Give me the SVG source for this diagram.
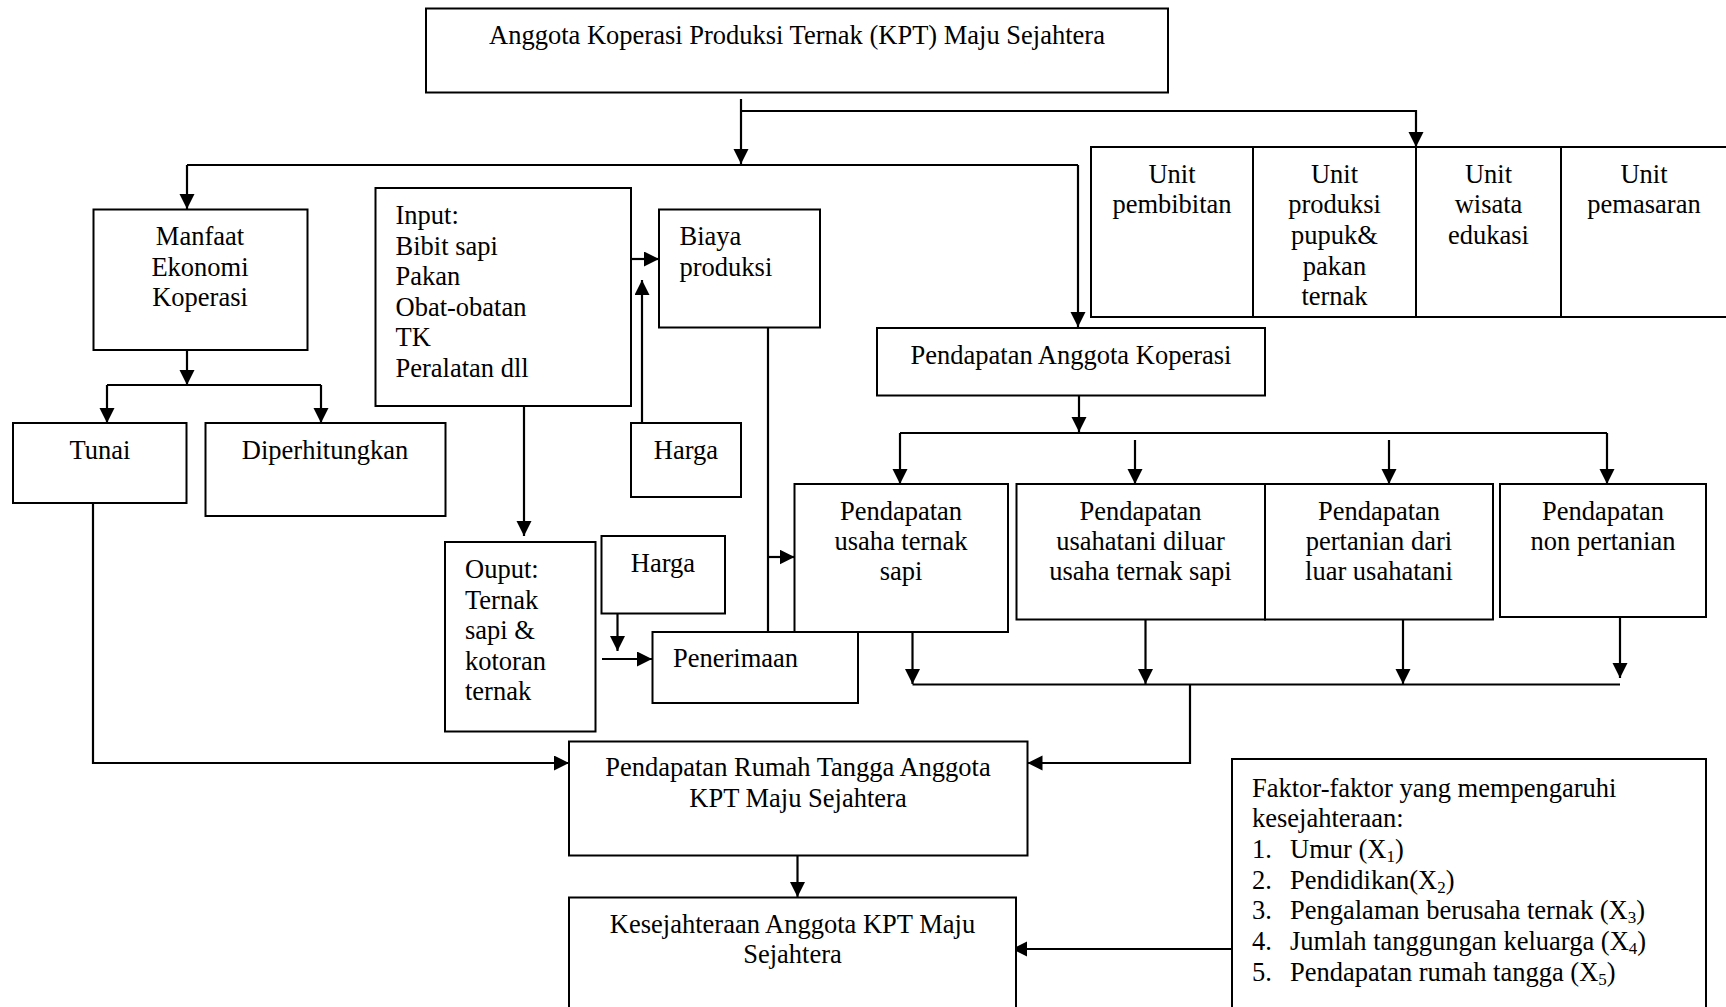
<svg xmlns="http://www.w3.org/2000/svg" width="1726" height="1007" viewBox="0 0 1726 1007">
<style>
  .box { fill: #ffffff; stroke: #000000; stroke-width: 2; }
  .t { font-family: "Liberation Serif", "Times New Roman", serif; font-size: 26.5px; fill: #000000; }
  .c { text-anchor: middle; }
  .ln { fill: none; stroke: #000000; stroke-width: 2.2; }
  .arr { fill: none; stroke: #000000; stroke-width: 2.2; marker-end: url(#ah); }
  .sub { font-size: 17px; }
</style>
<defs>
  <marker id="ah" markerUnits="userSpaceOnUse" markerWidth="16" markerHeight="16" viewBox="0 0 16 16" refX="15" refY="7.5" orient="auto">
    <path d="M0,0 L15,7.5 L0,15 Z" fill="#000000"/>
  </marker>
</defs>
<rect width="1726" height="1007" fill="#ffffff"/>

<g id="connectors">
  <path class="arr" d="M741,99 V164"/>
  <path class="arr" d="M741,111 H1416 V147"/>
  <path class="ln" d="M187,165 H1078"/>
  <path class="arr" d="M187,165 V209"/>
  <path class="arr" d="M1078,165 V327"/>
  <path class="arr" d="M187,346 V385"/>
  <path class="ln" d="M107,385 H321"/>
  <path class="arr" d="M107,385 V423"/>
  <path class="arr" d="M321,385 V423"/>
  <path class="arr" d="M631,259 H659"/>
  <path class="arr" d="M642,423 V280"/>
  <path class="arr" d="M524,406 V536"/>
  <path class="arr" d="M617.5,613 V651"/>
  <path class="arr" d="M602,659 H652"/>
  <path class="ln" d="M768,328 V632"/>
  <path class="arr" d="M768,557 H794.5"/>
  <path class="arr" d="M1079,396 V432"/>
  <path class="ln" d="M900,433 H1607"/>
  <path class="arr" d="M900,433 V484"/>
  <path class="arr" d="M1135,440 V484"/>
  <path class="arr" d="M1389,440 V484"/>
  <path class="arr" d="M1607,433 V484"/>
  <path class="arr" d="M912.5,632 V684"/>
  <path class="arr" d="M1145.5,620 V684"/>
  <path class="arr" d="M1403,620 V684"/>
  <path class="arr" d="M1620,614 V678"/>
  <path class="ln" d="M912.5,684.5 H1620"/>
  <path class="arr" d="M1190,684.5 V763 H1027.5"/>
  <path class="arr" d="M93,503 V763 H569"/>
  <path class="arr" d="M797.5,856 V897"/>
  <path class="arr" d="M1232,949 H1012"/>
</g>

<g id="node-anggota">
  <rect class="box" x="426" y="8.5" width="742" height="84"/>
  <text class="t c" x="797" y="44">Anggota Koperasi Produksi Ternak (KPT) Maju Sejahtera</text>
</g>

<g id="node-unit-pembibitan">
  <rect class="box" x="1091" y="147" width="162" height="170"/>
  <text class="t c" x="1172" y="182.5">Unit</text>
  <text class="t c" x="1172" y="213">pembibitan</text>
</g>
<g id="node-unit-produksi">
  <rect class="box" x="1253" y="147" width="163" height="170"/>
  <text class="t c" x="1334.5" y="182.5">Unit</text>
  <text class="t c" x="1334.5" y="213">produksi</text>
  <text class="t c" x="1334.5" y="244">pupuk&amp;</text>
  <text class="t c" x="1334.5" y="274.5">pakan</text>
  <text class="t c" x="1334.5" y="305">ternak</text>
</g>
<g id="node-unit-wisata">
  <rect class="box" x="1416" y="147" width="145" height="170"/>
  <text class="t c" x="1488.5" y="182.5">Unit</text>
  <text class="t c" x="1488.5" y="213">wisata</text>
  <text class="t c" x="1488.5" y="244">edukasi</text>
</g>
<g id="node-unit-pemasaran">
  <rect class="box" x="1561" y="147" width="170" height="170"/>
  <text class="t c" x="1644" y="182.5">Unit</text>
  <text class="t c" x="1644" y="213">pemasaran</text>
</g>

<g id="node-manfaat">
  <rect class="box" x="93.5" y="209.5" width="214" height="140.5"/>
  <text class="t c" x="200" y="245">Manfaat</text>
  <text class="t c" x="200" y="275.5">Ekonomi</text>
  <text class="t c" x="200" y="306">Koperasi</text>
</g>

<g id="node-tunai">
  <rect class="box" x="13" y="423" width="173.5" height="80"/>
  <text class="t c" x="100" y="458.5">Tunai</text>
</g>

<g id="node-diperhitungkan">
  <rect class="box" x="205.5" y="423" width="240" height="93"/>
  <text class="t c" x="325" y="458.5">Diperhitungkan</text>
</g>

<g id="node-input">
  <rect class="box" x="375.5" y="188" width="255.5" height="218"/>
  <text class="t" x="395.5" y="224">Input:</text>
  <text class="t" x="395.5" y="254.5">Bibit sapi</text>
  <text class="t" x="395.5" y="285">Pakan</text>
  <text class="t" x="395.5" y="315.5">Obat-obatan</text>
  <text class="t" x="395.5" y="346">TK</text>
  <text class="t" x="395.5" y="376.5">Peralatan dll</text>
</g>

<g id="node-biaya">
  <rect class="box" x="659" y="209.5" width="161" height="118"/>
  <text class="t" x="679.5" y="245">Biaya</text>
  <text class="t" x="679.5" y="275.5">produksi</text>
</g>

<g id="node-harga-1">
  <rect class="box" x="631" y="423" width="110" height="74"/>
  <text class="t c" x="686" y="458.5">Harga</text>
</g>

<g id="node-pendapatan-anggota">
  <rect class="box" x="877" y="328" width="388" height="67.5"/>
  <text class="t c" x="1071" y="363.5">Pendapatan Anggota Koperasi</text>
</g>

<g id="node-ouput">
  <rect class="box" x="445" y="542" width="150.5" height="189.5"/>
  <text class="t" x="465" y="578">Ouput:</text>
  <text class="t" x="465" y="608.6">Ternak</text>
  <text class="t" x="465" y="639.2">sapi &amp;</text>
  <text class="t" x="465" y="669.8">kotoran</text>
  <text class="t" x="465" y="700.4">ternak</text>
</g>

<g id="node-harga-2">
  <rect class="box" x="601.5" y="536" width="123.5" height="77.5"/>
  <text class="t c" x="663" y="571.5">Harga</text>
</g>

<g id="node-penerimaan">
  <rect class="box" x="652.5" y="632" width="205.5" height="71"/>
  <text class="t" x="673" y="667">Penerimaan</text>
</g>

<g id="node-pendapatan-ternak">
  <rect class="box" x="794.5" y="484" width="213.5" height="148"/>
  <text class="t c" x="901" y="520">Pendapatan</text>
  <text class="t c" x="901" y="550">usaha ternak</text>
  <text class="t c" x="901" y="580">sapi</text>
</g>
<g id="node-pendapatan-usahatani">
  <rect class="box" x="1016.5" y="484" width="248.5" height="135.5"/>
  <text class="t c" x="1140.5" y="520">Pendapatan</text>
  <text class="t c" x="1140.5" y="550">usahatani diluar</text>
  <text class="t c" x="1140.5" y="580">usaha ternak sapi</text>
</g>
<g id="node-pendapatan-pertanian">
  <rect class="box" x="1265" y="484" width="228" height="135.5"/>
  <text class="t c" x="1379" y="520">Pendapatan</text>
  <text class="t c" x="1379" y="550">pertanian dari</text>
  <text class="t c" x="1379" y="580">luar usahatani</text>
</g>
<g id="node-pendapatan-non">
  <rect class="box" x="1500" y="484" width="206" height="133"/>
  <text class="t c" x="1603" y="520">Pendapatan</text>
  <text class="t c" x="1603" y="550">non pertanian</text>
</g>

<g id="node-rumah-tangga">
  <rect class="box" x="569" y="741.5" width="458.5" height="114"/>
  <text class="t c" x="798" y="776">Pendapatan Rumah Tangga Anggota</text>
  <text class="t c" x="798" y="807">KPT Maju Sejahtera</text>
</g>

<g id="node-kesejahteraan">
  <rect class="box" x="569" y="897.5" width="447" height="130"/>
  <text class="t c" x="792.5" y="932.5">Kesejahteraan Anggota KPT Maju</text>
  <text class="t c" x="792.5" y="963">Sejahtera</text>
</g>

<g id="node-faktor">
  <rect class="box" x="1232" y="759" width="474" height="270"/>
  <text class="t" x="1252" y="796.5">Faktor-faktor yang mempengaruhi</text>
  <text class="t" x="1252" y="827.2">kesejahteraan:</text>
  <text class="t" x="1252" y="857.9">1.</text>
  <text class="t" x="1290" y="857.9">Umur (X<tspan class="sub" dy="4">1</tspan><tspan dy="-4">)</tspan></text>
  <text class="t" x="1252" y="888.6">2.</text>
  <text class="t" x="1290" y="888.6">Pendidikan(X<tspan class="sub" dy="4">2</tspan><tspan dy="-4">)</tspan></text>
  <text class="t" x="1252" y="919.3">3.</text>
  <text class="t" x="1290" y="919.3">Pengalaman berusaha ternak (X<tspan class="sub" dy="4">3</tspan><tspan dy="-4">)</tspan></text>
  <text class="t" x="1252" y="950">4.</text>
  <text class="t" x="1290" y="950">Jumlah tanggungan keluarga (X<tspan class="sub" dy="4">4</tspan><tspan dy="-4">)</tspan></text>
  <text class="t" x="1252" y="980.7">5.</text>
  <text class="t" x="1290" y="980.7">Pendapatan rumah tangga (X<tspan class="sub" dy="4">5</tspan><tspan dy="-4">)</tspan></text>
</g>
</svg>
